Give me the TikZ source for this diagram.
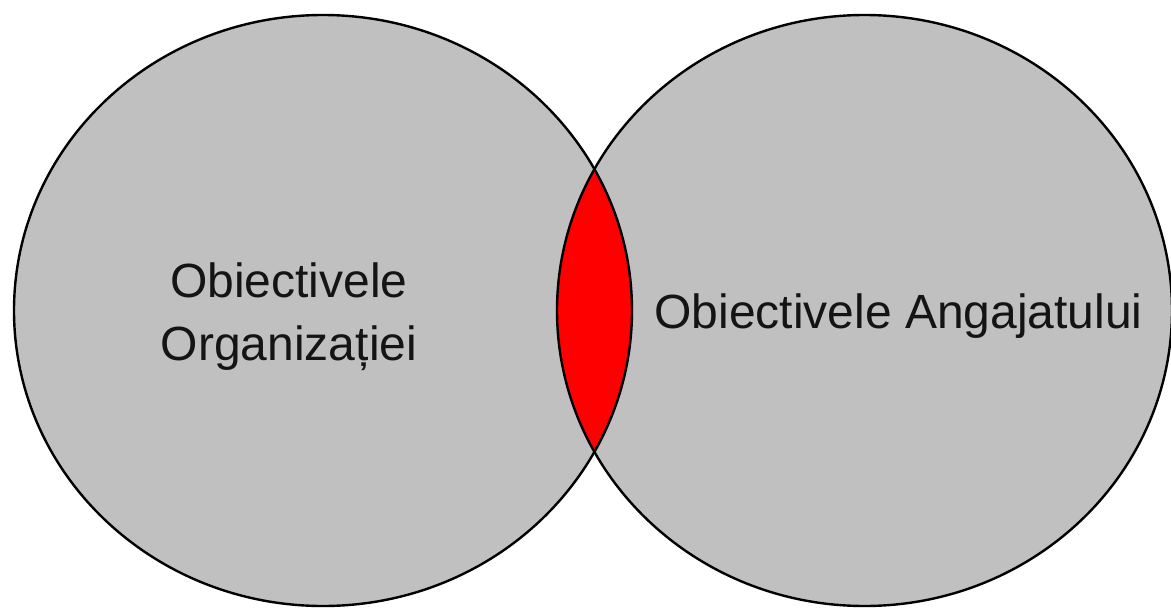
\documentclass[tikz,border=0pt]{standalone}
\usepackage{fontspec}
\setmainfont{Liberation Sans}
\definecolor{setgray}{HTML}{C0C0C0}
\definecolor{overlapred}{HTML}{FF0000}
\begin{document}
\begin{tikzpicture}[x=0.75pt, y=-0.75pt,
    setfill/.style={fill=setgray},
    setline/.style={draw=black, line width=1.8pt},
    label/.style={font=\fontsize{36}{47}\selectfont, text=black!92, align=center, inner sep=0pt}]
  \useasboundingbox (0,0) rectangle (1171,607);
  % the two sets
  \fill[setfill] (323,310.5) ellipse [x radius=309, y radius=295.5];
  \fill[setfill] (864.5,310.5) ellipse [x radius=307.5, y radius=295.5];
  % their common part
  \begin{scope}
    \clip (323,310.5) ellipse [x radius=309, y radius=295.5];
    \fill[overlapred] (864.5,310.5) ellipse [x radius=307.5, y radius=295.5];
  \end{scope}
  % outlines
  \draw[setline] (323,310.5) ellipse [x radius=309, y radius=295.5];
  \draw[setline] (864.5,310.5) ellipse [x radius=307.5, y radius=295.5];
  % labels
  \node[label] (org) at (289,317) {Obiectivele\\Organizației};
  \node[label] (emp) at (898.5,316) {Obiectivele Angajatului};
\end{tikzpicture}
\end{document}
